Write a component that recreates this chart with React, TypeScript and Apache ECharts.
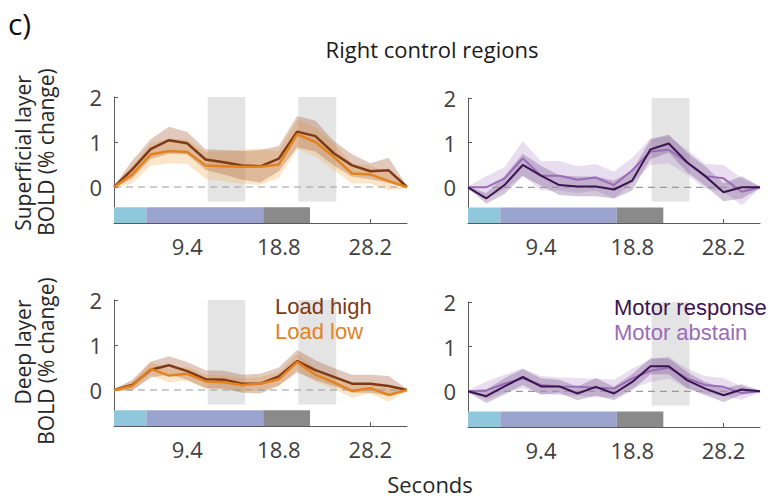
import React, { useEffect, useRef } from "react";
import * as echarts from "echarts";

// Time axis (seconds, TR = 1.88 s)
const timeSec = [1.88, 3.76, 5.64, 7.52, 9.4, 11.28, 13.16, 15.04, 16.92, 18.8, 20.68, 22.56, 24.44, 26.32, 28.2, 30.08, 31.96];
const xTickValues = [9.4, 18.8, 28.2];
const yTickValues = [0, 1, 2];

// Superficial layer
const loadHighSup = [0, 0.39, 0.84, 1.04, 0.97, 0.61, 0.55, 0.48, 0.46, 0.63, 1.23, 1.13, 0.75, 0.48, 0.35, 0.37, 0];
const loadHighSupErr = [0.02, 0.2, 0.22, 0.3, 0.25, 0.23, 0.27, 0.32, 0.36, 0.28, 0.35, 0.34, 0.27, 0.25, 0.18, 0.28, 0.02];
const loadLowSup = [0, 0.28, 0.72, 0.8, 0.78, 0.48, 0.46, 0.45, 0.45, 0.5, 1.17, 1.0, 0.67, 0.3, 0.28, 0.13, 0];
const loadLowSupErr = [0.02, 0.2, 0.25, 0.28, 0.27, 0.3, 0.33, 0.38, 0.4, 0.3, 0.33, 0.32, 0.3, 0.22, 0.2, 0.2, 0.02];
const motorRespSup = [0, -0.25, 0.05, 0.5, 0.26, 0.05, 0.02, 0.02, -0.05, 0.15, 0.85, 0.98, 0.56, 0.25, -0.11, 0, 0];
const motorRespSupErr = [0.02, 0.12, 0.2, 0.25, 0.22, 0.22, 0.22, 0.22, 0.2, 0.22, 0.22, 0.2, 0.22, 0.22, 0.2, 0.25, 0.02];
const motorAbsSup = [0, 0, 0.2, 0.65, 0.26, 0.26, 0.17, 0.22, 0.05, 0.38, 0.8, 0.84, 0.56, 0.25, 0.2, -0.1, 0];
const motorAbsSupErr = [0.02, 0.25, 0.25, 0.38, 0.33, 0.33, 0.3, 0.3, 0.3, 0.28, 0.3, 0.3, 0.28, 0.28, 0.3, 0.3, 0.02];

// Deep layer
const loadHighDeep = [0, 0.11, 0.45, 0.55, 0.42, 0.24, 0.23, 0.14, 0.14, 0.3, 0.64, 0.44, 0.29, 0.14, 0.14, 0.09, 0];
const loadHighDeepErr = [0.02, 0.12, 0.18, 0.2, 0.2, 0.2, 0.2, 0.2, 0.22, 0.2, 0.25, 0.22, 0.2, 0.2, 0.2, 0.22, 0.02];
const loadLowDeep = [0, 0.09, 0.47, 0.32, 0.36, 0.19, 0.17, 0.11, 0.14, 0.24, 0.62, 0.34, 0.17, -0.02, 0.04, -0.11, 0];
const loadLowDeepErr = [0.02, 0.1, 0.15, 0.15, 0.15, 0.15, 0.15, 0.15, 0.15, 0.15, 0.18, 0.15, 0.15, 0.15, 0.12, 0.15, 0.02];
const motorRespDeep = [0, -0.11, 0.11, 0.32, 0.11, 0.11, -0.05, 0.1, -0.05, 0.21, 0.56, 0.56, 0.25, 0.06, -0.09, 0.04, 0];
const motorRespDeepErr = [0.02, 0.15, 0.18, 0.18, 0.18, 0.15, 0.15, 0.2, 0.15, 0.18, 0.18, 0.18, 0.18, 0.15, 0.15, 0.12, 0.02];
const motorAbsDeep = [0, 0.02, 0.17, 0.29, 0.14, 0.11, 0.1, 0.08, 0.06, 0.29, 0.46, 0.53, 0.29, 0.14, 0.1, -0.04, 0];
const motorAbsDeepErr = [0.02, 0.2, 0.2, 0.22, 0.2, 0.2, 0.2, 0.2, 0.2, 0.22, 0.25, 0.25, 0.22, 0.2, 0.2, 0.15, 0.02];

// Trial phases (seconds): cue, delay, response
const phaseStarts = [1.88, 5.2, 17.2];
const phaseEnds = [5.2, 17.2, 22.0];
const phaseColors = ["#8fc8dc", "#9aa4cf", "#8a8a8a"];
const phaseYRange = [-0.8, -0.45];

// Gray shaded windows
const windowEarly = [11.5, 15.35];
const windowLate = [20.8, 24.7];
const windowYRange = [-0.32, 2.0];

const FONT = "Open Sans";
const LEGEND_FONT = "Liberation Sans";
const COL = {
  hi: "#7d3a14",
  hiBand: "rgba(165,95,55,0.33)",
  lo: "#e2831f",
  loBand: "rgba(246,178,95,0.33)",
  mr: "#3b1350",
  mrBand: "rgba(95,55,115,0.28)",
  ma: "#9a6cb8",
  maBand: "rgba(180,145,205,0.3)",
};

const grids = [
  { left: 114, top: 97, width: 293, height: 126 },
  { left: 468, top: 98, width: 292, height: 125 },
  { left: 114, top: 300, width: 293, height: 126 },
  { left: 468, top: 302, width: 292, height: 125 },
];

function bandSeries(k: number, mean: number[], err: number[], color: string) {
  const lo = mean.map((m, i) => m - err[i]);
  const hi = mean.map((m, i) => m + err[i]);
  return {
    type: "custom",
    xAxisIndex: k,
    yAxisIndex: k,
    z: 2,
    silent: true,
    data: timeSec.map((x, i) => [x, lo[i], hi[i]]),
    encode: { x: 0, y: [1, 2] },
    renderItem: (params: any, api: any) => {
      if (params.dataIndex !== 0) return null;
      const pts: number[][] = [];
      timeSec.forEach((x, i) => pts.push(api.coord([x, hi[i]])));
      for (let i = timeSec.length - 1; i >= 0; i--) pts.push(api.coord([timeSec[i], lo[i]]));
      return { type: "polygon", shape: { points: pts }, style: { fill: color } };
    },
  };
}

function meanSeries(k: number, mean: number[], color: string, width: number) {
  return {
    type: "line",
    xAxisIndex: k,
    yAxisIndex: k,
    z: 5,
    silent: true,
    symbol: "none",
    data: timeSec.map((x, i) => [x, mean[i]]),
    lineStyle: { color, width },
  };
}

function backgroundSeries(k: number, windows: number[][]) {
  const areas: any[] = [];
  windows.forEach((w) => {
    areas.push([
      { xAxis: w[0], yAxis: windowYRange[1], itemStyle: { color: "#e4e4e4" } },
      { xAxis: w[1], yAxis: windowYRange[0] },
    ]);
  });
  phaseStarts.forEach((s, i) => {
    areas.push([
      { xAxis: s, yAxis: phaseYRange[1], itemStyle: { color: phaseColors[i] } },
      { xAxis: phaseEnds[i], yAxis: phaseYRange[0] },
    ]);
  });
  return [
    {
      type: "line",
      xAxisIndex: k,
      yAxisIndex: k,
      z: 1,
      silent: true,
      symbol: "none",
      data: [
        [timeSec[0], 0],
        [timeSec[timeSec.length - 1], 0],
      ],
      lineStyle: { opacity: 0 },
      markArea: { silent: true, data: areas, itemStyle: { opacity: 1 } },
    },
    {
      type: "line",
      xAxisIndex: k,
      yAxisIndex: k,
      z: 3,
      silent: true,
      symbol: "none",
      data: [
        [timeSec[0], 0],
        [timeSec[timeSec.length - 1], 0],
      ],
      lineStyle: { color: "#9a9a9a", width: 1.2, type: [7, 5] },
    },
  ];
}

export default function App() {
  const ref = useRef<HTMLDivElement>(null);
  useEffect(() => {
    if (!ref.current) return;
    const chart = echarts.init(ref.current, null, { renderer: "svg" });
    const axisColor = "#5a5a5a";
    const labelColor = "#404040";
    const legendText = (x: number, y: number, text: string, color: string) => ({
      type: "text",
      x,
      y,
      z: 10,
      style: { text, fontSize: 22, fontFamily: LEGEND_FONT, fill: color, verticalAlign: "middle" },
    });
    const option: any = {
      animation: false,
      textStyle: { fontFamily: FONT },
      grid: grids,
      xAxis: grids.map((_, k) => ({
        gridIndex: k,
        type: "value",
        min: timeSec[0],
        max: timeSec[timeSec.length - 1],
        axisLine: { onZero: false, lineStyle: { color: axisColor, width: 1 } },
        axisTick: { inside: true, length: 4, customValues: xTickValues, lineStyle: { color: axisColor } },
        axisLabel: {
          customValues: xTickValues,
          formatter: (v: number) => String(v),
          color: labelColor,
          fontSize: 22,
          fontFamily: FONT,
          margin: 12,
        },
        splitLine: { show: false },
      })),
      yAxis: grids.map((_, k) => ({
        gridIndex: k,
        type: "value",
        min: -0.8,
        max: 2,
        axisLine: { show: true, onZero: false, lineStyle: { color: axisColor, width: 1 } },
        axisTick: { show: true, inside: true, length: 4, customValues: yTickValues, lineStyle: { color: axisColor } },
        axisLabel: {
          customValues: yTickValues,
          color: labelColor,
          fontSize: 22,
          fontFamily: FONT,
          margin: 12,
        },
        splitLine: { show: false },
      })),
      series: [
        ...backgroundSeries(0, [windowEarly, windowLate]),
        ...backgroundSeries(1, [windowLate]),
        ...backgroundSeries(2, [windowEarly, windowLate]),
        ...backgroundSeries(3, [windowLate]),
        bandSeries(0, loadLowSup, loadLowSupErr, COL.loBand),
        bandSeries(0, loadHighSup, loadHighSupErr, COL.hiBand),
        bandSeries(1, motorAbsSup, motorAbsSupErr, COL.maBand),
        bandSeries(1, motorRespSup, motorRespSupErr, COL.mrBand),
        bandSeries(2, loadLowDeep, loadLowDeepErr, COL.loBand),
        bandSeries(2, loadHighDeep, loadHighDeepErr, COL.hiBand),
        bandSeries(3, motorAbsDeep, motorAbsDeepErr, COL.maBand),
        bandSeries(3, motorRespDeep, motorRespDeepErr, COL.mrBand),
        meanSeries(0, loadHighSup, COL.hi, 2.5),
        meanSeries(0, loadLowSup, COL.lo, 2.5),
        meanSeries(1, motorAbsSup, COL.ma, 2),
        meanSeries(1, motorRespSup, COL.mr, 2),
        meanSeries(2, loadHighDeep, COL.hi, 2.5),
        meanSeries(2, loadLowDeep, COL.lo, 2.5),
        meanSeries(3, motorAbsDeep, COL.ma, 2),
        meanSeries(3, motorRespDeep, COL.mr, 2),
      ],
      graphic: [
        { type: "text", x: 8, y: 8, style: { text: "c)", fontSize: 30, fontFamily: FONT, fill: "#111", verticalAlign: "top" } },
        { type: "text", x: 432, y: 49, style: { text: "Right control regions", fontSize: 22, fontFamily: FONT, fill: "#1a1a1a", align: "center", verticalAlign: "middle" } },
        { type: "text", x: 430, y: 484, style: { text: "Seconds", fontSize: 22, fontFamily: FONT, fill: "#262626", align: "center", verticalAlign: "middle" } },
        { type: "text", x: 23, y: 153, rotation: Math.PI / 2, style: { text: "Superficial layer", fontSize: 21, fontFamily: FONT, fill: "#262626", align: "center", verticalAlign: "middle" } },
        { type: "text", x: 46, y: 152, rotation: Math.PI / 2, style: { text: "BOLD (% change)", fontSize: 21, fontFamily: FONT, fill: "#262626", align: "center", verticalAlign: "middle" } },
        { type: "text", x: 23, y: 352, rotation: Math.PI / 2, style: { text: "Deep layer", fontSize: 21, fontFamily: FONT, fill: "#262626", align: "center", verticalAlign: "middle" } },
        { type: "text", x: 46, y: 361, rotation: Math.PI / 2, style: { text: "BOLD (% change)", fontSize: 21, fontFamily: FONT, fill: "#262626", align: "center", verticalAlign: "middle" } },
        legendText(275, 306.5, "Load high", COL.hi),
        legendText(275, 331.5, "Load low", COL.lo),
        legendText(614, 307.5, "Motor response", COL.mr),
        legendText(614, 332.5, "Motor abstain", COL.ma),
      ],
    };
    chart.setOption(option);
    return () => chart.dispose();
  }, []);
  return <div ref={ref} style={{ position: "absolute", left: 0, top: 0, width: 779, height: 502 }} />;
}
